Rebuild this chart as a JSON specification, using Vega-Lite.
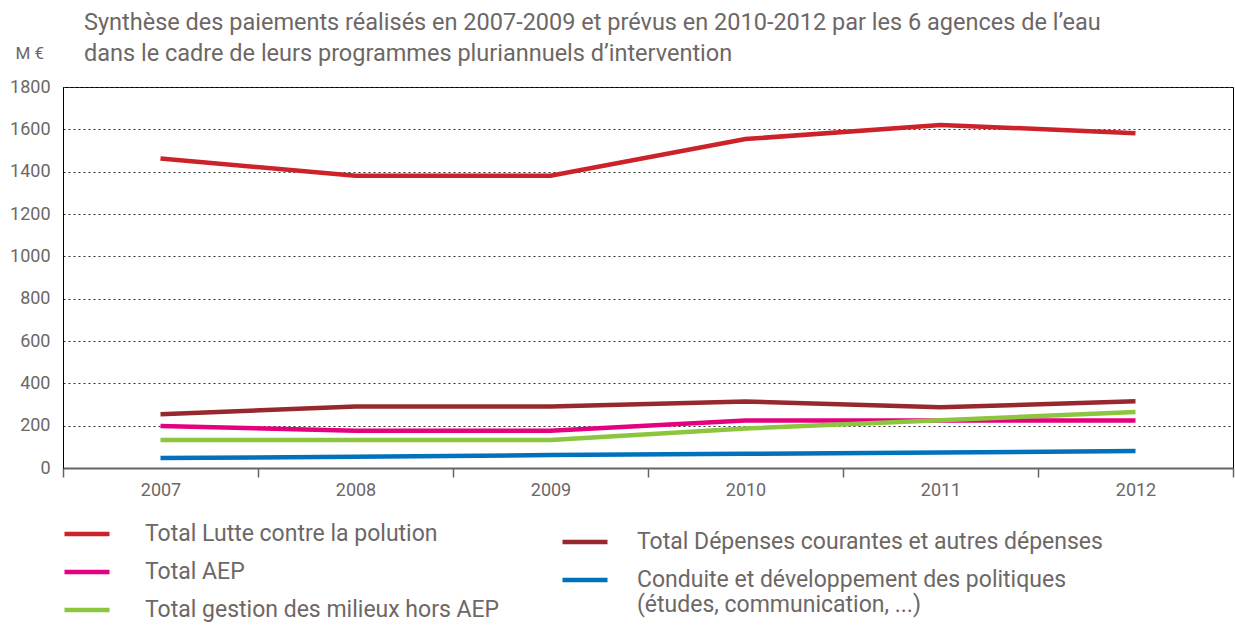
{
  "$schema": "https://vega.github.io/schema/vega-lite/v6.json",
  "width": 1170,
  "height": 381,
  "autosize": "none",
  "padding": {"left": 63, "top": 87, "right": 2, "bottom": 160},
  "background": "white",
  "config": {
    "font": "Roboto",
    "view": {"stroke": "black", "strokeWidth": 1}
  },
  "title": {
    "text": ["Synthèse des paiements réalisés en 2007-2009 et prévus en 2010-2012 par les 6 agences de l’eau", "dans le cadre de leurs programmes pluriannuels d’intervention"],
    "anchor": "start",
    "frame": "group",
    "dx": 21,
    "offset": -21,
    "fontSize": 23.5,
    "lineHeight": 31,
    "fontWeight": "normal",
    "color": "#6d6766",
    "font": "Roboto"
  },
  "data": {
    "values": [
      {"series": "Total Lutte contre la polution", "year": "2007", "value": 1462},
      {"series": "Total Lutte contre la polution", "year": "2008", "value": 1381},
      {"series": "Total Lutte contre la polution", "year": "2009", "value": 1381},
      {"series": "Total Lutte contre la polution", "year": "2010", "value": 1554},
      {"series": "Total Lutte contre la polution", "year": "2011", "value": 1621},
      {"series": "Total Lutte contre la polution", "year": "2012", "value": 1582},
      {"series": "Total Dépenses courantes et autres dépenses", "year": "2007", "value": 254},
      {"series": "Total Dépenses courantes et autres dépenses", "year": "2008", "value": 290},
      {"series": "Total Dépenses courantes et autres dépenses", "year": "2009", "value": 290},
      {"series": "Total Dépenses courantes et autres dépenses", "year": "2010", "value": 314},
      {"series": "Total Dépenses courantes et autres dépenses", "year": "2011", "value": 287},
      {"series": "Total Dépenses courantes et autres dépenses", "year": "2012", "value": 315},
      {"series": "Total AEP", "year": "2007", "value": 198},
      {"series": "Total AEP", "year": "2008", "value": 176},
      {"series": "Total AEP", "year": "2009", "value": 176},
      {"series": "Total AEP", "year": "2010", "value": 224},
      {"series": "Total AEP", "year": "2011", "value": 224},
      {"series": "Total AEP", "year": "2012", "value": 224},
      {"series": "Total gestion des milieux hors AEP", "year": "2007", "value": 132},
      {"series": "Total gestion des milieux hors AEP", "year": "2008", "value": 132},
      {"series": "Total gestion des milieux hors AEP", "year": "2009", "value": 132},
      {"series": "Total gestion des milieux hors AEP", "year": "2010", "value": 187},
      {"series": "Total gestion des milieux hors AEP", "year": "2011", "value": 226},
      {"series": "Total gestion des milieux hors AEP", "year": "2012", "value": 264},
      {"series": "Conduite et développement des politiques (études, communication, ...)", "year": "2007", "value": 47},
      {"series": "Conduite et développement des politiques (études, communication, ...)", "year": "2008", "value": 53},
      {"series": "Conduite et développement des politiques (études, communication, ...)", "year": "2009", "value": 61},
      {"series": "Conduite et développement des politiques (études, communication, ...)", "year": "2010", "value": 67},
      {"series": "Conduite et développement des politiques (études, communication, ...)", "year": "2011", "value": 73},
      {"series": "Conduite et développement des politiques (études, communication, ...)", "year": "2012", "value": 80}
    ]
  },
  "encoding": {
    "x": {
      "field": "year",
      "type": "ordinal",
      "bandPosition": 0.5,
      "scale": {"type": "band", "paddingInner": 0, "paddingOuter": 0},
      "axis": {
        "title": null,
        "labelAngle": 0,
        "tickBand": "extent",
        "ticks": true,
        "tickSize": 9,
        "tickColor": "#666666",
        "tickWidth": 1.5,
        "domainColor": "#666666",
        "domainWidth": 2,
        "labelPadding": 4,
        "labelFontSize": 18,
        "labelColor": "#6d6766",
        "grid": false
      }
    },
    "y": {
      "field": "value",
      "type": "quantitative",
      "scale": {"domain": [0, 1800], "nice": false},
      "axis": {
        "values": [0, 200, 400, 600, 800, 1000, 1200, 1400, 1600, 1800],
        "format": "d",
        "grid": true,
        "gridDash": [2, 3],
        "gridColor": "#333333",
        "gridWidth": 1,
        "ticks": false,
        "domainColor": "black",
        "domainWidth": 1,
        "labelPadding": 13,
        "labelFontSize": 18,
        "labelColor": "#6d6766",
        "title": "M €",
        "titleAngle": 0,
        "titleX": -48,
        "titleY": -34,
        "titleAlign": "left",
        "titleBaseline": "middle",
        "titleFontSize": 17,
        "titleFontWeight": "normal",
        "titleColor": "#6d6766"
      }
    }
  },
  "layer": [
    {
      "transform": [{"filter": {"field": "series", "oneOf": ["Total Lutte contre la polution", "Total AEP", "Total gestion des milieux hors AEP"]}}],
      "mark": {"type": "line", "strokeWidth": 4.5, "strokeCap": "butt"},
      "encoding": {
        "color": {
          "field": "series",
          "type": "nominal",
          "scale": {
            "domain": ["Total Lutte contre la polution", "Total AEP", "Total gestion des milieux hors AEP"],
            "range": ["#cc2229", "#e5007e", "#8cc63f"]
          },
          "legend": {
            "orient": "none",
            "legendX": -1,
            "legendY": 422,
            "title": null,
            "symbolType": "stroke",
            "symbolSize": 2025,
            "symbolStrokeWidth": 4.5,
            "labelOffset": 33,
            "labelFontSize": 23,
            "labelColor": "#6d6766",
            "labelLimit": 700,
            "rowPadding": 1
          }
        }
      }
    },
    {
      "transform": [{"filter": {"field": "series", "oneOf": ["Total Dépenses courantes et autres dépenses", "Conduite et développement des politiques (études, communication, ...)"]}}],
      "mark": {"type": "line", "strokeWidth": 4.5, "strokeCap": "butt"},
      "encoding": {
        "stroke": {
          "field": "series",
          "type": "nominal",
          "scale": {
            "domain": ["Total Dépenses courantes et autres dépenses", "Conduite et développement des politiques (études, communication, ...)"],
            "range": ["#97292e", "#0072bc"]
          },
          "legend": {
            "orient": "none",
            "legendX": 497,
            "legendY": 430,
            "title": null,
            "symbolType": "stroke",
            "symbolSize": 2025,
            "symbolStrokeWidth": 4.5,
            "labelOffset": 27,
            "labelFontSize": 23,
            "labelColor": "#6d6766",
            "labelLimit": 700,
            "rowPadding": 1,
            "labelExpr": "indexof(datum.label, '(') > 0 ? ['Conduite et développement des politiques', '(études, communication, ...)'] : datum.label"
          }
        }
      }
    }
  ]
}
